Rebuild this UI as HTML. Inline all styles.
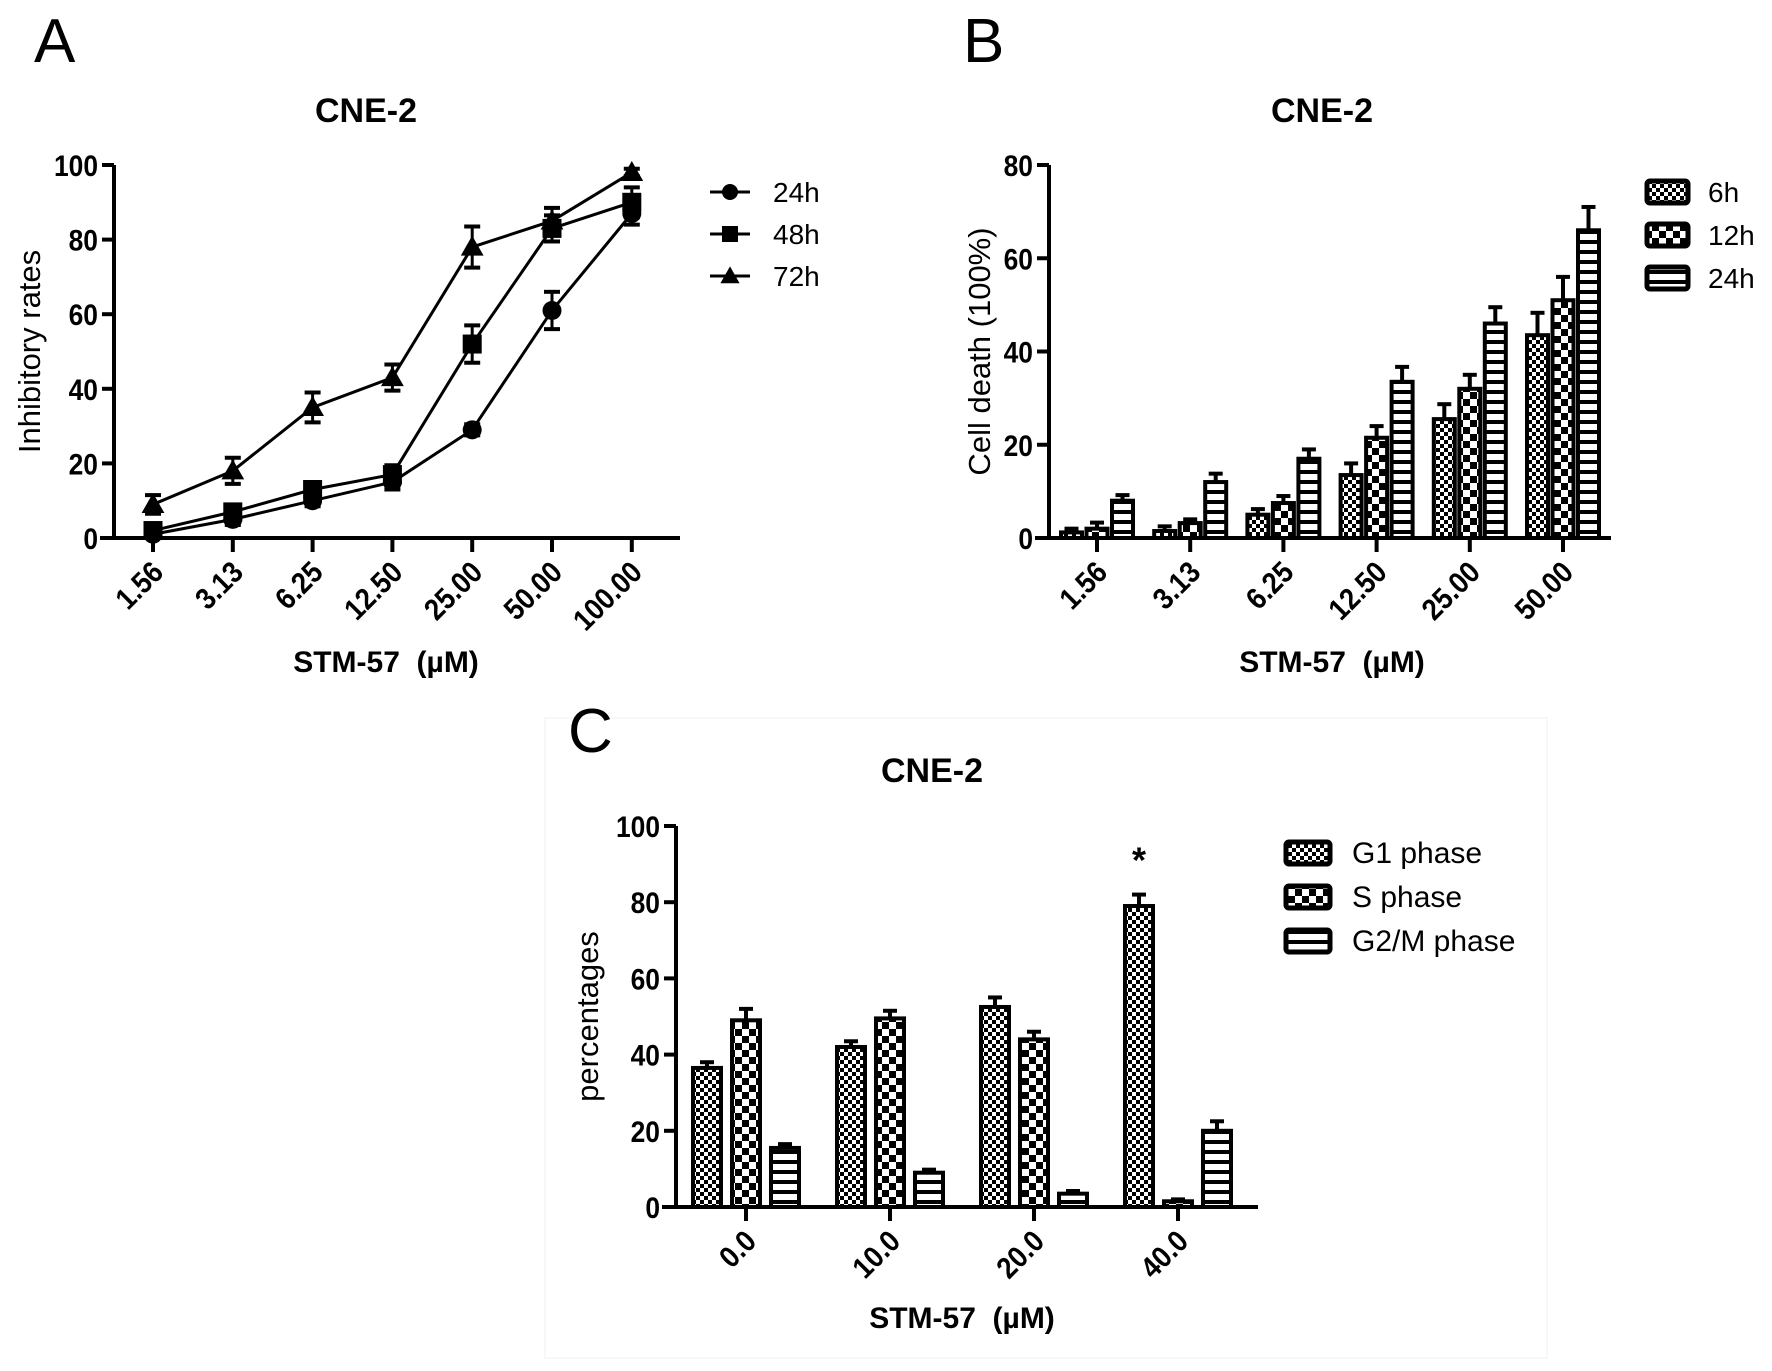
<!DOCTYPE html>
<html><head><meta charset="utf-8"><style>
html,body{margin:0;padding:0;background:#fff}
svg{display:block}
text{font-family:"Liberation Sans",Arial,sans-serif;fill:#000}
.tk{font-weight:bold;font-size:30px}
.ttl{font-weight:bold;font-size:34px}
.axt{font-weight:bold;font-size:30px}
.yl{font-size:31px}
.lg{font-size:28px}
.pl{font-size:62px}
</style></head><body>
<svg id="fig" width="1772" height="1371" viewBox="0 0 1772 1371" xmlns="http://www.w3.org/2000/svg">
<defs>
<pattern id="pFine" width="8" height="8" patternUnits="userSpaceOnUse"><rect width="8" height="8" fill="#000"/><rect x="0" y="0" width="4" height="4" fill="#fff"/><rect x="4" y="4" width="4" height="4" fill="#fff"/></pattern>
<pattern id="pCheck" width="14" height="14" patternUnits="userSpaceOnUse"><rect width="14" height="14" fill="#fff"/><rect x="0" y="0" width="7" height="7" fill="#000"/><rect x="7" y="7" width="7" height="7" fill="#000"/></pattern>
<pattern id="pStripe" width="10" height="10" patternUnits="userSpaceOnUse"><rect width="10" height="10" fill="#fff"/><rect x="0" y="0" width="10" height="4" fill="#000"/></pattern>
</defs>
<rect x="545" y="718" width="1002" height="640" fill="none" stroke="#f8f8f8" stroke-width="2"/>
<text class="pl" x="34" y="62">A</text>
<text class="pl" x="963" y="62">B</text>
<text class="pl" x="568" y="752">C</text>
<g id="gA"></g>
<g id="gB"></g>
<g id="gC"></g>
</svg>
<script>
// ---- Panel A data ----
const catsA = ["1.56","3.13","6.25","12.50","25.00","50.00","100.00"];
const a24 = [1,5,10,15,29,61,87];
const a24e = [1,1.5,1.5,2,1.5,5,3];
const a48 = [2,7,13,17,52,83,90];
const a48e = [1,1.5,1.5,2.5,5,3.5,4];
const a72 = [9,18,35,43,78,85,98];
const a72e = [2.5,3.5,4,3.5,5.5,3.5,1];
const ticksA = [0,20,40,60,80,100];
// ---- Panel B data ----
const catsB = ["1.56","3.13","6.25","12.50","25.00","50.00"];
const b6 = [1.2,1.5,5,13.5,25.5,43.5];
const b6e = [0.8,1,1.2,2.5,3.2,4.8];
const b12 = [2,3.2,7.5,21.5,32,51];
const b12e = [1.3,0.8,1.5,2.5,3,5];
const b24 = [8,12,17,33.5,46,66];
const b24e = [1.2,1.8,2,3.2,3.5,5];
const ticksB = [0,20,40,60,80];
// ---- Panel C data ----
const catsC = ["0.0","10.0","20.0","40.0"];
const cG1 = [36.5,42,52.5,79];
const cG1e = [1.5,1.5,2.5,3];
const cS = [49,49.5,44,1.5];
const cSe = [3,2,2,0.5];
const cG2 = [15.5,9,3.5,20];
const cG2e = [1,0.8,0.7,2.5];
const ticksC = [0,20,40,60,80,100];

const NS="http://www.w3.org/2000/svg";
function mk(parent,tag,attrs,txt){const e=document.createElementNS(NS,tag);for(const k in attrs)e.setAttribute(k,attrs[k]);if(txt!==undefined)e.textContent=txt;parent.appendChild(e);return e;}

function axes(g,o){
  const ys=v=>o.y0-(v/o.vmax)*(o.y0-o.yTop);
  let l=mk(g,'line',{x1:o.x0,y1:o.yTop,x2:o.x0,y2:o.y0+2,stroke:'#000','stroke-width':4});
  
  
  l=mk(g,'line',{x1:o.x0-14,y1:o.y0,x2:o.x1,y2:o.y0,stroke:'#000','stroke-width':4});
  
  
  o.ticks.forEach(t=>{
    mk(g,'line',{x1:o.x0-12,y1:ys(t),x2:o.x0,y2:ys(t),stroke:'#000','stroke-width':4});
    const tx=mk(g,'text',{class:'tk',x:0,y:0,'text-anchor':'end',transform:`translate(${o.x0-16},${ys(t)+11}) scale(0.88,1)`},String(t));
    
    
  });
  o.cats.forEach((c,i)=>{
    const x=o.catX(i);
    mk(g,'line',{x1:x,y1:o.y0,x2:x,y2:o.y0+14,stroke:'#000','stroke-width':4});
    const tx=mk(g,'text',{class:'tk',x:0,y:0,'text-anchor':'end',transform:`translate(${x+12},${o.y0+36}) rotate(-45) scale(0.9,1)`},c);
    
    
  });
  let t=mk(g,'text',{class:'ttl',x:o.titleX,y:o.titleY,'text-anchor':'middle'},'CNE-2');
  
  
  t=mk(g,'text',{class:'yl',x:0,y:0,'text-anchor':'middle',transform:`translate(${o.ylabX},${(o.y0+o.yTop)/2}) rotate(-90)`},o.ylab);
  
  
  t=mk(g,'text',{class:'axt',x:o.xlabX,y:o.xlabY,'text-anchor':'middle'},'STM-57\u00a0\u00a0(\u00b5M)');
  
  
  return ys;
}

function marker(g,type,x,y,s){
  let m;
  if(type==='circle') m=mk(g,'circle',{cx:x,cy:y,r:s*0.5,fill:'#000'});
  else if(type==='square') m=mk(g,'rect',{x:x-s/2,y:y-s/2,width:s,height:s,fill:'#000'});
  else m=mk(g,'polygon',{points:`${x},${y-s*0.6} ${x-s*0.6},${y+s*0.45} ${x+s*0.6},${y+s*0.45}`,fill:'#000'});
  return m;
}

// ---- Panel A ----
(function(){
  const g=document.getElementById('gA');
  const o={x0:114,x1:680,y0:538,yTop:165,vmax:100,ticks:ticksA,cats:catsA,catX:i=>153+i*79.8,
    titleX:366,titleY:122,ylab:'Inhibitory rates',ylabX:40,xlabX:386,xlabY:672};
  const ys=axes(g,o);
  const series=[[a24,a24e,'circle','24h'],[a48,a48e,'square','48h'],[a72,a72e,'triangle','72h']];
  series.forEach(([v,e,type,name],si)=>{
    const pts=v.map((d,i)=>`${o.catX(i)},${ys(d)}`).join(' ');
    const pl=mk(g,'polyline',{points:pts,fill:'none',stroke:'#000','stroke-width':3});
    
    
    v.forEach((d,i)=>{
      const x=o.catX(i);
      mk(g,'line',{x1:x,y1:ys(d+e[i]),x2:x,y2:ys(d-e[i]),stroke:'#000','stroke-width':3});
      mk(g,'line',{x1:x-8,y1:ys(d+e[i]),x2:x+8,y2:ys(d+e[i]),stroke:'#000','stroke-width':4});
      mk(g,'line',{x1:x-8,y1:ys(d-e[i]),x2:x+8,y2:ys(d-e[i]),stroke:'#000','stroke-width':4});
      const m=marker(g,type,x,ys(d),19);
      
      
    });
    const ly=192+si*42;
    const lg=mk(g,'g',{});
    
    
    mk(lg,'line',{x1:710,y1:ly,x2:750,y2:ly,stroke:'#000','stroke-width':3});
    marker(lg,type,730,ly,16);
    mk(lg,'text',{class:'lg',x:773,y:ly+10},name);
  });
})();

function barChart(g,o,series){
  const ys=axes(g,o);
  series.forEach(([v,e,pat,name],si)=>{
    v.forEach((d,i)=>{
      const cx=o.catX(i)+(si-1)*o.step;
      const r=mk(g,'rect',{x:cx-o.bw/2,y:ys(d),width:o.bw,height:o.y0-ys(d),fill:`url(#${pat})`,stroke:'#000','stroke-width':4});
      
      
      mk(g,'line',{x1:cx,y1:ys(d),x2:cx,y2:ys(d+e[i]),stroke:'#000','stroke-width':4});
      mk(g,'line',{x1:cx-7,y1:ys(d+e[i]),x2:cx+7,y2:ys(d+e[i]),stroke:'#000','stroke-width':4});
    });
    const ly=o.legY+si*o.legStep;
    const lg=mk(g,'g',{});
    
    
    mk(lg,'rect',{x:o.legX+2,y:ly-11,width:o.legW-4,height:22,rx:3,fill:`url(#${pat})`,stroke:'#000','stroke-width':5});
    mk(lg,'text',{class:'lg',x:o.legTX,y:ly+10,style:`font-size:${o.legFS}px`},name);
  });
  return ys;
}

// ---- Panel B ----
(function(){
  const g=document.getElementById('gB');
  const o={x0:1049,x1:1611,y0:538,yTop:165,vmax:80,ticks:ticksB,cats:catsB,catX:i=>1097+i*93.2,
    titleX:1322,titleY:122,ylab:'Cell death (100%)',ylabX:990,xlabX:1332,xlabY:672,
    bw:21,step:25.5,legX:1645,legW:45,legY:192,legStep:43,legTX:1708,legFS:28};
  barChart(g,o,[[b6,b6e,'pFine','6h'],[b12,b12e,'pCheck','12h'],[b24,b24e,'pStripe','24h']]);
})();

// ---- Panel C ----
(function(){
  const g=document.getElementById('gC');
  const o={x0:676,x1:1258,y0:1207,yTop:826,vmax:100,ticks:ticksC,cats:catsC,catX:i=>746+i*144,
    titleX:932,titleY:782,ylab:'percentages',ylabX:598,xlabX:962,xlabY:1328,
    bw:28,step:39,legX:1284,legW:48,legY:853,legStep:44,legTX:1352,legFS:30};
  const ys=barChart(g,o,[[cG1,cG1e,'pFine','G1 phase'],[cS,cSe,'pCheck','S phase'],[cG2,cG2e,'pStripe','G2/M phase']]);
  const ax=o.catX(3)-o.step;
  const s=mk(g,'text',{x:ax,y:ys(cG1[3]+cG1e[3])-22,'text-anchor':'middle',style:'font-size:36px;font-weight:bold'},'*');
  
  
})();
</script>
</body></html>
